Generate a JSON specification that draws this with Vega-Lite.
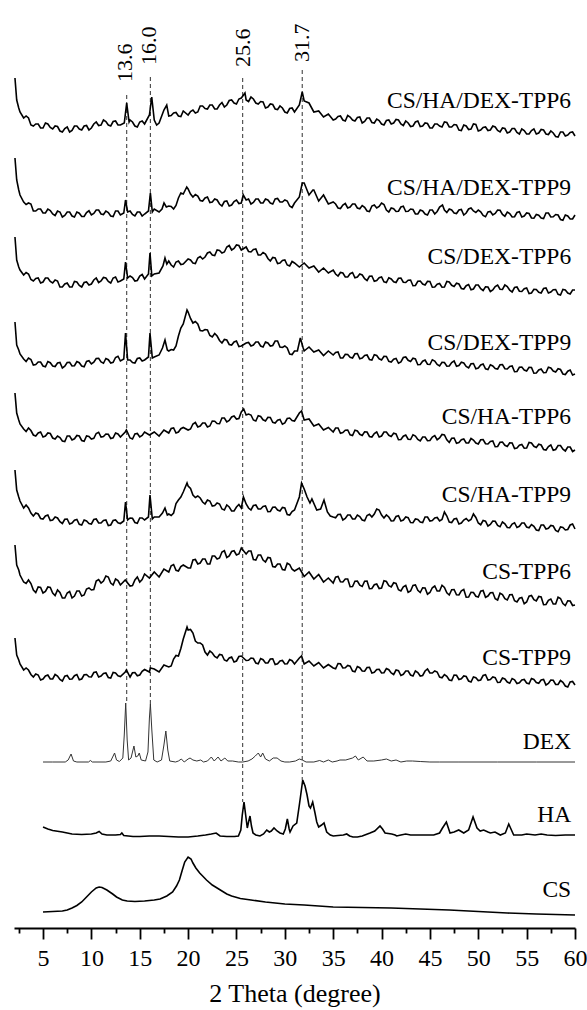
{
"$schema": "https://vega.github.io/schema/vega-lite/v6.json",
"width": 561, "height": 923,
"autosize": {"type": "none"},
"padding": {"left": 14, "top": 5, "right": 12, "bottom": 82},
"background": "white",
"config": {"view": {"stroke": null}, "font": "Liberation Serif, DejaVu Serif, serif"},
"datasets": {
"noisy": [
{"x":2.1,"a":850,"b":770,"c":691,"d":606,"e":535,"f":458,"g":383,"h":290},
{"x":2.28,"a":828,"b":748,"c":668,"d":583,"e":515,"f":438,"g":363,"h":273},
{"x":2.49,"a":820,"b":738,"c":661,"d":578,"e":508,"f":431,"g":358,"h":268},
{"x":2.62,"a":816,"b":733,"c":658,"d":574,"e":504,"f":427,"g":353,"h":264},
{"x":3,"a":810,"b":726,"c":653,"d":569,"e":499,"f":420,"g":346,"h":258},
{"x":3.5,"a":810,"b":725,"c":654,"d":570,"e":500,"f":420,"g":348,"h":258},
{"x":4,"a":802,"b":717,"c":647,"d":563,"e":493,"f":412,"g":338,"h":251},
{"x":4.5,"a":804,"b":719,"c":650,"d":566,"e":495,"f":414,"g":341,"h":253},
{"x":5,"a":800,"b":715,"c":646,"d":562,"e":491,"f":409,"g":335,"h":249},
{"x":5.5,"a":804,"b":719,"c":650,"d":566.5,"e":495,"f":413,"g":341,"h":253},
{"x":6,"a":799,"b":714,"c":645,"d":562,"e":490,"f":408,"g":335,"h":249},
{"x":6.5,"a":801.5,"b":717,"c":647,"d":565,"e":492,"f":410,"g":338,"h":252},
{"x":7,"a":796,"b":711,"c":641,"d":560,"e":487,"f":404.5,"g":330,"h":247},
{"x":7.5,"a":801,"b":716,"c":645,"d":565.5,"e":492,"f":409,"g":335,"h":252.5},
{"x":8,"a":797.5,"b":712,"c":641,"d":562,"e":488,"f":405,"g":330,"h":249},
{"x":8.5,"a":802,"b":716,"c":646,"d":566.5,"e":492.5,"f":408.5,"g":337,"h":253.5},
{"x":9,"a":798,"b":711.5,"c":641,"d":562,"e":487.5,"f":403,"g":332,"h":249},
{"x":9.5,"a":802.5,"b":715.5,"c":646,"d":566.5,"e":492,"f":407,"g":339,"h":253.5},
{"x":10,"a":800,"b":713,"c":644,"d":564,"e":489,"f":404,"g":338,"h":251},
{"x":10.5,"a":806,"b":718,"c":650,"d":569.5,"e":494.5,"f":409,"g":347,"h":256},
{"x":11,"a":803,"b":714,"c":647,"d":566,"e":491,"f":405,"g":345,"h":252},
{"x":11.5,"a":806.5,"b":717,"c":650,"d":569.5,"e":494,"f":408,"g":352,"h":255},
{"x":12,"a":802,"b":712,"c":645,"d":565,"e":489.5,"f":403,"g":345,"h":250},
{"x":12.5,"a":807,"b":717,"c":651,"d":570.5,"e":495,"f":408,"g":349,"h":255},
{"x":13,"a":803,"b":713,"c":647,"d":567,"e":491,"f":404.5,"g":343,"h":251.5},
{"x":13.35,"b":715,"c":649,"d":569,"f":407},
{"x":13.4,"a":805},
{"x":13.5,"e":496,"g":348,"h":256},
{"x":13.53,"b":728,"c":666,"d":595,"f":426},
{"x":13.62,"e":498,"h":258},
{"x":13.65,"a":825},
{"x":13.75,"b":716,"c":650,"d":568,"f":408},
{"x":13.9,"a":806},
{"x":14,"a":808,"b":717,"c":652,"d":568,"e":490,"f":410,"g":342,"h":251},
{"x":14.5,"a":802,"b":712,"c":647,"d":565,"e":494,"f":405.5,"g":348,"h":255.5},
{"x":15,"a":806,"b":716,"c":652,"d":570,"e":491,"f":410,"g":346,"h":253},
{"x":15.5,"a":804,"b":714,"c":649,"d":568,"e":496,"f":408,"g":354,"h":258.5},
{"x":15.9,"b":717,"c":654,"d":571,"f":411},
{"x":16,"a":813,"e":493,"g":350,"h":256},
{"x":16.06,"c":675,"d":595,"f":433},
{"x":16.1,"b":735,"h":260},
{"x":16.24,"a":831},
{"x":16.25,"c":652},
{"x":16.3,"b":716,"d":570,"f":409},
{"x":16.5,"a":808,"b":719,"c":654,"d":571,"e":496,"f":411,"g":356,"h":259},
{"x":16.75,"a":803},
{"x":17,"a":805,"b":716,"c":655,"d":573,"e":492,"f":411,"g":351,"h":256},
{"x":17.3,"b":719},
{"x":17.35,"d":580,"f":415},
{"x":17.4,"c":662},
{"x":17.5,"a":818,"e":498,"g":359,"h":263},
{"x":17.51,"b":725},
{"x":17.61,"c":670,"d":588,"f":420},
{"x":17.75,"b":721},
{"x":17.79,"a":823},
{"x":17.8,"c":664},
{"x":17.85,"d":578,"f":413},
{"x":18,"a":812,"b":722,"c":667,"d":577,"e":495,"f":414,"g":356,"h":261},
{"x":18.5,"a":815,"b":719,"c":661,"d":578,"e":500,"f":415,"g":363.5,"h":269},
{"x":19,"a":812,"b":730,"c":667,"d":592,"e":496,"f":428,"g":357,"h":272},
{"x":19.5,"a":817,"b":734,"c":664,"d":604,"e":500.5,"f":436,"g":363,"h":289},
{"x":19.86,"b":741},
{"x":19.89,"d":618,"f":445,"h":301},
{"x":20,"a":813,"b":739,"c":669,"d":616,"e":498,"f":442,"g":360,"h":298},
{"x":20.5,"a":818,"b":731,"c":665,"d":605,"e":504,"f":433,"g":368,"h":295},
{"x":21,"a":816,"b":732,"c":670,"d":604,"e":501,"f":432,"g":364,"h":285},
{"x":21.5,"a":822,"b":727,"c":669,"d":597,"e":505,"f":426,"g":369,"h":283},
{"x":22,"a":819,"b":731,"c":675,"d":598,"e":501,"f":428,"g":364,"h":273},
{"x":22.5,"a":823,"b":726,"c":673,"d":591,"e":507,"f":422,"g":372,"h":275},
{"x":23,"a":819,"b":728,"c":678,"d":592,"e":504.5,"f":425,"g":369,"h":270},
{"x":23.5,"a":825.5,"b":722,"c":675,"d":585,"e":510,"f":419,"g":376,"h":273},
{"x":24,"a":823,"b":727,"c":681,"d":588,"e":506,"f":423,"g":370.5,"h":267},
{"x":24.5,"a":828,"b":723,"c":678,"d":583,"e":511,"f":417,"g":376.5,"h":271},
{"x":25,"a":824,"b":728,"c":683,"d":587,"e":509,"f":421,"g":373,"h":267},
{"x":25.5,"a":830,"b":725,"c":678,"d":582,"e":516,"f":420,"g":380,"h":272},
{"x":25.7,"b":733},
{"x":25.72,"f":431},
{"x":25.75,"e":519},
{"x":25.88,"a":835},
{"x":26,"a":828,"b":728,"c":681,"d":585,"e":513,"f":424,"g":374,"h":267.5},
{"x":26.5,"a":831,"b":724,"c":676,"d":582,"e":513,"f":418,"g":377,"h":270},
{"x":27,"a":825,"b":729,"c":679,"d":586,"e":507,"f":423,"g":368,"h":265},
{"x":27.5,"a":826.5,"b":725,"c":673,"d":582,"e":511.5,"f":419,"g":373,"h":269.5},
{"x":28,"a":820,"b":729,"c":674,"d":586,"e":507,"f":422,"g":366,"h":265},
{"x":28.5,"a":824,"b":725,"c":667,"d":582,"e":510.5,"f":416.5,"g":370,"h":269},
{"x":29,"a":819,"b":729,"c":670,"d":587,"e":505,"f":421,"g":361,"h":263.5},
{"x":29.5,"a":822,"b":726,"c":665,"d":581,"e":508.5,"f":417,"g":364,"h":267},
{"x":30,"a":816,"b":728,"c":668,"d":582,"e":505,"f":420,"g":358,"h":264},
{"x":30.5,"a":819.5,"b":722,"c":662,"d":574,"e":510,"f":413,"g":363.5,"h":268.5},
{"x":31,"a":816,"b":725,"c":665,"d":577,"e":507,"f":418,"g":357,"h":264},
{"x":31.3,"d":577},
{"x":31.5,"a":823,"b":731,"c":661,"e":515,"f":431,"g":360,"h":270},
{"x":31.6,"d":590},
{"x":31.73,"e":517,"f":445,"h":272},
{"x":31.8,"a":836,"b":745},
{"x":31.9,"d":580},
{"x":32,"a":827,"b":745,"c":665,"d":577,"e":508,"f":439,"g":351.5,"h":264},
{"x":32.3,"f":431},
{"x":32.5,"a":825,"b":733,"c":660,"d":581,"e":509,"g":356,"h":267},
{"x":32.6,"f":425},
{"x":32.8,"f":429},
{"x":32.9,"b":738},
{"x":33,"a":816,"b":738,"c":662,"d":576,"e":502,"g":349,"h":262},
{"x":33.3,"f":418},
{"x":33.5,"a":817,"b":727,"c":656,"d":578,"e":504,"g":353.5,"h":265.5},
{"x":33.7,"f":419},
{"x":34,"a":811,"b":733,"c":660,"d":572.5,"e":498,"g":346,"h":260},
{"x":34.05,"f":428},
{"x":34.4,"f":416},
{"x":34.5,"a":814,"b":724,"c":655,"d":577,"e":500.5,"g":350,"h":263.5},
{"x":34.7,"f":412},
{"x":35,"a":808,"b":726,"c":658,"d":573,"e":496,"f":411,"g":345,"h":260},
{"x":35.5,"a":811.5,"b":720,"c":652,"d":576,"e":500,"f":413.5,"g":351.5,"h":264.5},
{"x":36,"a":808,"b":723,"c":655,"d":570,"e":495.5,"f":408,"g":346,"h":260},
{"x":36.5,"a":812.5,"b":720,"c":651,"d":573.5,"e":498,"f":413,"g":349,"h":262.5},
{"x":37,"a":808,"b":724,"c":655.5,"d":570,"e":492.5,"f":409,"g":341.5,"h":257},
{"x":37.5,"a":810.5,"b":720,"c":651,"d":574.5,"e":497,"f":413,"g":347,"h":261.5},
{"x":38,"a":805,"b":722.5,"c":653,"d":570,"e":492.5,"f":408,"g":341.5,"h":257},
{"x":38.5,"a":810,"b":717,"c":647.5,"d":573,"e":496,"f":412.5,"g":347,"h":260.5},
{"x":39,"a":805.5,"b":722,"c":652,"d":568,"e":491,"f":411,"g":339.5,"h":255},
{"x":39.5,"a":809,"b":720,"c":647.5,"d":572.5,"e":496,"f":419,"g":344,"h":258.5},
{"x":40,"a":804,"b":725,"c":651,"d":568,"e":492,"f":413,"g":340,"h":255},
{"x":40.5,"a":807.5,"b":718,"c":645.5,"d":571.5,"e":496,"f":413,"g":346.5,"h":259.5},
{"x":41,"a":804,"b":720,"c":649,"d":566,"e":491.5,"f":407,"g":341,"h":255},
{"x":41.5,"a":808.5,"b":716.5,"c":645.5,"d":569.5,"e":494,"f":411.5,"g":344.5,"h":258},
{"x":42,"a":804,"b":721,"c":650,"d":566,"e":488.5,"f":407,"g":337,"h":252.5},
{"x":42.5,"a":807,"b":716.5,"c":645.5,"d":571,"e":493,"f":411,"g":342.5,"h":257},
{"x":43,"a":801.5,"b":719,"c":648,"d":566.5,"e":488.5,"f":405.5,"g":337,"h":253},
{"x":43.5,"a":806,"b":714,"c":642.5,"d":569,"e":492,"f":409,"g":343,"h":257},
{"x":44,"a":801.5,"b":718,"c":647,"d":563.5,"e":487,"f":406,"g":335.5,"h":252},
{"x":44.5,"a":805,"b":714,"c":643,"d":568,"e":491,"f":411,"g":340,"h":257},
{"x":45,"a":800,"b":718,"c":646.5,"d":563.5,"e":487.5,"f":407,"g":335.5,"h":255},
{"x":45.5,"a":804,"b":714,"c":641,"d":567,"e":492.5,"f":410,"g":342,"h":257},
{"x":46,"a":802,"b":721,"c":644.5,"d":562,"e":490,"f":407,"g":337,"h":251},
{"x":46.3,"b":723},
{"x":46.5,"a":806,"b":718,"c":641,"d":565.5,"e":493,"f":416,"g":340.5,"h":253.5},
{"x":47,"a":801,"b":719,"c":646,"d":562,"e":485.5,"f":406,"g":333,"h":248},
{"x":47.5,"a":803.5,"b":715,"c":641.5,"d":567,"e":490,"f":409,"g":338.5,"h":253},
{"x":48,"a":798,"b":718,"c":644,"d":562.5,"e":485.5,"f":404,"g":333,"h":248.5},
{"x":48.5,"a":803,"b":713,"c":639,"d":565,"e":489,"f":408,"g":338.5,"h":252},
{"x":49,"a":798.5,"b":719,"c":643.5,"d":560,"e":485,"f":407,"g":331,"h":247},
{"x":49.5,"a":804,"b":717,"c":639,"d":564.5,"e":488,"f":414,"g":335.5,"h":251},
{"x":50,"a":797,"b":718,"c":643,"d":560,"e":484,"f":405,"g":331,"h":247.5},
{"x":50.5,"a":800.5,"b":712.5,"c":637.5,"d":564,"e":488.5,"f":407.5,"g":337.5,"h":252.5},
{"x":51,"a":797.5,"b":716,"c":641,"d":558.5,"e":484,"f":402,"g":332,"h":248},
{"x":51.5,"a":802,"b":713,"c":638,"d":562,"e":487,"f":407,"g":335.5,"h":251},
{"x":52,"a":797.5,"b":718,"c":643,"d":559,"e":481.5,"f":402.5,"g":328,"h":245.5},
{"x":52.5,"a":800,"b":713.5,"c":638.5,"d":563.5,"e":486,"f":406,"g":333.5,"h":250},
{"x":53,"a":795,"b":716,"c":641.5,"d":559,"e":481.5,"f":400.5,"g":328,"h":246},
{"x":53.5,"a":799.5,"b":711,"c":636,"d":562,"e":485,"f":404,"g":333.5,"h":249.5},
{"x":54,"a":795.5,"b":715.5,"c":641,"d":556.5,"e":480,"f":400.5,"g":326,"h":244.5},
{"x":54.5,"a":799,"b":711,"c":636.5,"d":561,"e":483.5,"f":405,"g":330.5,"h":248},
{"x":55,"a":794,"b":715,"c":640,"d":557,"e":480,"f":401,"g":326,"h":245},
{"x":55.5,"a":797.5,"b":710,"c":635,"d":560.5,"e":485,"f":403.5,"g":332.5,"h":249.5},
{"x":56,"a":794,"b":713.5,"c":638.5,"d":555,"e":480.5,"f":398,"g":327,"h":245.5},
{"x":56.5,"a":798.5,"b":710,"c":635,"d":559,"e":483,"f":403,"g":331,"h":248},
{"x":57,"a":794,"b":715,"c":640,"d":555.5,"e":478,"f":399,"g":323.5,"h":243},
{"x":57.5,"a":797,"b":711,"c":636,"d":560,"e":483,"f":402.5,"g":329,"h":248},
{"x":58,"a":791.5,"b":713.5,"c":638.5,"d":556,"e":478.5,"f":397.5,"g":324,"h":243.5},
{"x":58.5,"a":796,"b":708.5,"c":633,"d":558.5,"e":482.5,"f":401,"g":329.5,"h":247.5},
{"x":59,"a":792,"b":713,"c":638,"d":553.5,"e":477,"f":398,"g":322.5,"h":242},
{"x":59.5,"a":795.5,"b":709,"c":634,"d":558,"e":481,"f":403,"g":327,"h":246},
{"x":60,"a":792,"b":713,"c":638,"d":554,"e":478,"f":399,"g":323,"h":243},
{"x":3.25,"a":812,"b":723.5,"c":655.5,"d":566.5,"e":496.5,"f":423,"g":344.5,"h":260},
{"x":3.75,"a":803,"b":724,"c":648.5,"d":568.5,"e":497.5,"f":415,"g":344.5,"h":253.5},
{"x":4.25,"a":804,"b":717,"c":649.5,"d":563.5,"e":492,"f":415,"g":335.5,"h":254},
{"x":4.75,"a":800,"b":719,"c":645,"d":566,"e":496,"f":409.5,"g":340.5,"h":248},
{"x":5.25,"a":805,"b":715,"c":650,"d":561.25,"e":492,"f":412,"g":336.5,"h":252},
{"x":5.75,"a":800.5,"b":717.5,"c":646.5,"d":565.25,"e":494.5,"f":407.5,"g":340.5,"h":249},
{"x":6.25,"a":802,"b":712.5,"c":648,"d":561.5,"e":489,"f":411,"g":332.5,"h":253.5},
{"x":6.75,"a":797,"b":716,"c":641,"d":565.5,"e":490.5,"f":406.25,"g":335.5,"h":248.5},
{"x":7.25,"a":799.5,"b":712.5,"c":644,"d":561.75,"e":486.5,"f":408.75,"g":330,"h":251.75},
{"x":7.75,"a":796,"b":716,"c":641,"d":565.75,"e":492,"f":404,"g":336.5,"h":248.75},
{"x":8.25,"a":802,"b":711,"c":646.5,"d":562.25,"e":489.25,"f":407.75,"g":332,"h":252.25},
{"x":8.75,"a":799,"b":714.75,"c":642.5,"d":565.25,"e":492,"f":403.75,"g":337,"h":248.25},
{"x":9.25,"a":802,"b":711.5,"c":645.5,"d":561.25,"e":486.75,"f":408,"g":333,"h":253.25},
{"x":9.75,"a":798,"b":717.25,"c":643,"d":567.25,"e":491.5,"f":404.5,"g":340,"h":251.25},
{"x":10.25,"a":804,"b":714.5,"c":648,"d":565.75,"e":489.75,"f":408.5,"g":338.5,"h":255.5},
{"x":10.75,"a":802.5,"b":718,"c":645.5,"d":569.75,"e":495.75,"f":405,"g":348.5,"h":251},
{"x":11.25,"a":808,"b":713.5,"c":650.5,"d":564.75,"e":491.5,"f":407.5,"g":347,"h":254.5},
{"x":11.75,"a":803,"b":715.5,"c":646.5,"d":568.25,"e":493.75,"f":402.5,"g":351,"h":250.5},
{"x":12.25,"a":806.5,"b":711.5,"c":650,"d":565.75,"e":490.25,"f":407.5,"g":343,"h":255.5},
{"x":12.75,"a":803,"b":717,"c":646,"d":571.75,"e":494,"f":405.25,"g":347.5,"h":252.25},
{"x":14.25,"a":806,"b":713.5,"c":650.5,"d":565.5,"e":489,"f":409.75,"g":342.5,"h":255.25},
{"x":14.75,"a":801,"b":716,"c":647.5,"d":569.5,"e":494.5,"f":404.75,"g":351,"h":252.25},
{"x":15.25,"a":807,"b":712,"c":653.5,"d":567,"e":492.5,"f":410,"g":348.5,"h":256.75},
{"x":18.25,"a":812.5,"b":721.5,"c":663,"d":578.5,"e":499.5,"f":412.5,"g":362.25,"h":262},
{"x":18.75,"a":815.5,"b":722.5,"c":666,"d":582,"e":495,"f":424.5,"g":357.75,"h":272.5},
{"x":19.25,"a":811.5,"b":735,"c":663.5,"d":600,"e":499.25,"f":431,"g":361.5,"h":279.5},
{"x":20.25,"a":816.5,"b":734,"c":668,"d":609.5,"e":499,"f":439.5,"g":360,"h":298.5},
{"x":20.75,"a":815,"b":733.5,"c":664.5,"d":606.5,"e":505.5,"f":430.5,"g":368.5,"h":287},
{"x":21.25,"a":822,"b":727.5,"c":671.5,"d":597.5,"e":502,"f":430,"g":365,"h":285},
{"x":21.75,"a":819.5,"b":730,"c":671,"d":598.5,"e":505,"f":424,"g":369,"h":276},
{"x":22.25,"a":823,"b":725.5,"c":676,"d":592.5,"e":502,"f":427,"g":364,"h":277},
{"x":22.75,"a":819,"b":729,"c":672.5,"d":594.5,"e":506.75,"f":422.5,"g":372,"h":271.5},
{"x":23.25,"a":823,"b":724,"c":677.5,"d":587.5,"e":504.25,"f":424,"g":370,"h":273.5},
{"x":23.75,"a":821,"b":726.5,"c":676,"d":588.5,"e":510,"f":418,"g":377.25,"h":268},
{"x":24.25,"a":827.5,"b":722,"c":682.5,"d":583.5,"e":507.5,"f":421,"g":372,"h":270},
{"x":24.75,"a":825,"b":726.5,"c":679.5,"d":586,"e":512,"f":417,"g":377.25,"h":266},
{"x":25.25,"a":829,"b":724.5,"c":682.5,"d":581.5,"e":509.5,"f":423.5,"g":374,"h":271.5},
{"x":26.25,"a":826.5,"b":729,"c":676.5,"d":585.5,"e":514,"f":420,"g":377,"h":267.75},
{"x":26.75,"a":829,"b":725.5,"c":678.5,"d":583,"e":508,"f":422.5,"g":368.5,"h":269.5},
{"x":27.25,"a":824,"b":729,"c":673,"d":586,"e":512.25,"f":419,"g":373,"h":264.25},
{"x":27.75,"a":826,"b":725,"c":675.5,"d":581,"e":508.25,"f":421.5,"g":368,"h":268.25},
{"x":28.25,"a":821,"b":728,"c":669.5,"d":585,"e":510.75,"f":416.25,"g":370.5,"h":265},
{"x":28.75,"a":823.5,"b":724,"c":670.5,"d":582.5,"e":505.75,"f":420.75,"g":361.5,"h":269.25},
{"x":29.25,"a":818.5,"b":729.5,"c":664.5,"d":587,"e":507.75,"f":418,"g":364,"h":264.25},
{"x":29.75,"a":820,"b":726,"c":667.5,"d":580.5,"e":503.75,"f":420.5,"g":358.5,"h":267.5},
{"x":30.25,"a":815,"b":727,"c":663,"d":580,"e":509.5,"f":413.5,"g":364.75,"h":264.25},
{"x":30.75,"a":820,"b":720.5,"c":666.5,"d":573.5,"e":507.5,"f":416.5,"g":358.75,"h":267.25},
{"x":35.25,"a":809,"b":724,"c":654,"d":575.5,"e":500,"f":410.25,"g":350.75,"h":259.25},
{"x":35.75,"a":812,"b":719.5,"c":655.5,"d":570,"e":494.75,"f":413.75,"g":346.25,"h":264.25},
{"x":36.25,"a":807,"b":724.5,"c":651,"d":573.75,"e":497.75,"f":409.5,"g":349,"h":260.25},
{"x":36.75,"a":811,"b":721,"c":654.25,"d":570.75,"e":493.25,"f":413,"g":341.25,"h":261.75},
{"x":37.25,"a":807,"b":724,"c":650.25,"d":574.25,"e":497.75,"f":409,"g":346.75,"h":256.25},
{"x":37.75,"a":811,"b":719.25,"c":654,"d":569.25,"e":493.75,"f":411.5,"g":342.75,"h":260.25},
{"x":38.25,"a":806.5,"b":720.75,"c":649.25,"d":572.5,"e":496.25,"f":407.25,"g":346.75,"h":256.75},
{"x":38.75,"a":810,"b":716.5,"c":651.75,"d":568.5,"e":491.5,"f":413.75,"g":339.25,"h":260.75},
{"x":39.25,"a":805,"b":723,"c":646.75,"d":573.25,"e":494.5,"f":414,"g":343.25,"h":255.75},
{"x":39.75,"a":807.5,"b":721.5,"c":650.25,"d":569.25,"e":491,"f":418,"g":339.5,"h":258.75},
{"x":40.25,"a":803,"b":723.5,"c":646.25,"d":571.75,"e":496,"f":410,"g":347.25,"h":255.25},
{"x":40.75,"a":808,"b":716,"c":650.25,"d":566.75,"e":492.75,"f":411,"g":342.25,"h":258.25},
{"x":41.25,"a":805,"b":719.25,"c":646.25,"d":568.75,"e":494.75,"f":407.25,"g":345.25,"h":253.5},
{"x":41.75,"a":808,"b":716.75,"c":649.75,"d":564.75,"e":488.25,"f":412.25,"g":338.25,"h":257.25},
{"x":42.25,"a":802.5,"b":721.75,"c":645.75,"d":570.5,"e":491.75,"f":408,"g":341.25,"h":253.75},
{"x":42.75,"a":805,"b":716.75,"c":647.75,"d":567.75,"e":488.75,"f":410.25,"g":335.75,"h":257},
{"x":43.25,"a":802,"b":718.5,"c":642.25,"d":569.75,"e":493.25,"f":405.25,"g":342.5,"h":252},
{"x":43.75,"a":807,"b":714,"c":646.75,"d":563.25,"e":488.5,"f":408.5,"g":337.75,"h":255.5},
{"x":44.25,"a":802,"b":717,"c":644,"d":566.75,"e":491,"f":405.5,"g":340.25,"h":252.5},
{"x":44.75,"a":804.5,"b":713,"c":646.75,"d":563.75,"e":487.25,"f":411,"g":333.75,"h":259},
{"x":45.25,"a":800,"b":718,"c":640.75,"d":568.25,"e":491,"f":407.5,"g":340.25,"h":255},
{"x":45.75,"a":804,"b":716.5,"c":643.75,"d":563.5,"e":488.25,"f":410.5,"g":337,"h":256},
{"x":46.25,"a":801,"c":640.75,"d":565.75,"e":493.5,"f":408.5,"g":342.75,"h":250.25},
{"x":46.75,"a":805.5,"b":715.5,"c":646.5,"d":561.75,"e":488.25,"f":412,"g":335.25,"h":251.75},
{"x":47.25,"a":801,"b":718,"c":642.75,"d":565.5,"e":489.75,"f":405.5,"g":338.25,"h":247.5},
{"x":47.75,"a":803,"b":714.5,"c":644.75,"d":561.75,"e":484.75,"f":409.5,"g":333.25,"h":252.75},
{"x":48.25,"a":797.5,"b":718.5,"c":639.5,"d":565.75,"e":488.25,"f":405,"g":337.25,"h":249.25},
{"x":48.75,"a":802,"b":715,"c":642.25,"d":561.5,"e":485,"f":409.5,"g":330.75,"h":251.5},
{"x":49.25,"a":799,"b":720,"c":638.25,"d":564.25,"e":489.5,"f":408.5,"g":335.75,"h":246},
{"x":49.75,"a":803.5,"b":715.5,"c":643,"d":559.25,"e":485,"f":410.5,"g":331.75,"h":250.25},
{"x":50.25,"a":798,"b":716.25,"c":639.25,"d":563,"e":488.25,"f":403.25,"g":336.75,"h":248},
{"x":50.75,"a":801,"b":711.25,"c":641.25,"d":559.25,"e":484.25,"f":406.75,"g":330.75,"h":253.25},
{"x":51.25,"a":798,"b":716.5,"c":636.5,"d":563.25,"e":486.5,"f":403.5,"g":335.25,"h":248.5},
{"x":51.75,"a":801,"b":714.5,"c":641.5,"d":559.5,"e":481.25,"f":406.75,"g":329.25,"h":250.25},
{"x":52.25,"a":796,"b":717.75,"c":638.75,"d":563.25,"e":485.75,"f":401.25,"g":334.75,"h":245.75},
{"x":52.75,"a":799.5,"b":711.75,"c":643,"d":559.25,"e":482.75,"f":404.25,"g":329.25,"h":249},
{"x":53.25,"a":796,"b":714.5,"c":637.75,"d":561.5,"e":485.25,"f":400.25,"g":333.25,"h":244.75},
{"x":53.75,"a":799.5,"b":711.25,"c":640.5,"d":556.25,"e":479.5,"f":405.25,"g":327.25,"h":248.25},
{"x":54.25,"a":794,"b":716.25,"c":636.75,"d":560.75,"e":482.75,"f":401.75,"g":329.75,"h":245.25},
{"x":54.75,"a":797.5,"b":712,"c":639.25,"d":558,"e":479.75,"f":405,"g":324.25,"h":248.5},
{"x":55.25,"a":794,"b":714.5,"c":634.5,"d":560.75,"e":485.5,"f":400.25,"g":331.75,"h":244.25},
{"x":55.75,"a":799,"b":709.75,"c":638.75,"d":554.75,"e":481.75,"f":401.75,"g":328.25,"h":248.5},
{"x":56.25,"a":795,"b":712.75,"c":635.75,"d":558,"e":483.75,"f":397.5,"g":331.5,"h":244.75},
{"x":56.75,"a":798,"b":709.5,"c":639.5,"d":555.25,"e":478.5,"f":403,"g":323.25,"h":248.5},
{"x":57.25,"a":793.5,"b":715,"c":635,"d":560.75,"e":481.5,"f":399.75,"g":327.75,"h":244.5},
{"x":57.75,"a":795,"b":711.25,"c":638.25,"d":557,"e":477.75,"f":402,"g":324,"h":247.75},
{"x":58.25,"a":791,"b":713,"c":633.75,"d":559.25,"e":482.5,"f":396.25,"g":330.75,"h":243.5},
{"x":58.75,"a":796,"b":707.75,"c":638.5,"d":554,"e":478.75,"f":400.5,"g":324.5,"h":245.75},
{"x":59.25,"a":793,"b":712,"c":635,"d":556.75,"e":481,"f":398.5,"g":327.25,"h":241},
{"x":59.75,"a":796,"b":709,"c":638,"d":553,"e":476.5,"f":404,"g":322.5,"h":246.5}
],
"smooth": [
{"s":"DEX","x":5,"y":166},{"s":"DEX","x":6,"y":166},{"s":"DEX","x":7.3,"y":166},{"s":"DEX","x":7.6,"y":168},{"s":"DEX","x":7.9,"y":174},{"s":"DEX","x":8.15,"y":167},{"s":"DEX","x":8.5,"y":166},{"s":"DEX","x":9.7,"y":166},{"s":"DEX","x":9.9,"y":167.5},{"s":"DEX","x":10.1,"y":166},{"s":"DEX","x":11.5,"y":166},{"s":"DEX","x":12,"y":167},{"s":"DEX","x":12.25,"y":172},{"s":"DEX","x":12.4,"y":175},{"s":"DEX","x":12.6,"y":168},{"s":"DEX","x":12.9,"y":166.5},{"s":"DEX","x":13.25,"y":170},{"s":"DEX","x":13.4,"y":193},{"s":"DEX","x":13.55,"y":225},{"s":"DEX","x":13.7,"y":188},{"s":"DEX","x":13.85,"y":168},{"s":"DEX","x":14.1,"y":170},{"s":"DEX","x":14.4,"y":182},{"s":"DEX","x":14.6,"y":171},{"s":"DEX","x":14.8,"y":172},{"s":"DEX","x":14.95,"y":175},{"s":"DEX","x":15.15,"y":168},{"s":"DEX","x":15.6,"y":167},{"s":"DEX","x":15.85,"y":176},{"s":"DEX","x":16,"y":210},{"s":"DEX","x":16.1,"y":224},{"s":"DEX","x":16.25,"y":198},{"s":"DEX","x":16.45,"y":168},{"s":"DEX","x":16.8,"y":166},{"s":"DEX","x":17.25,"y":168},{"s":"DEX","x":17.5,"y":183},{"s":"DEX","x":17.7,"y":197},{"s":"DEX","x":17.9,"y":178},{"s":"DEX","x":18.1,"y":167},{"s":"DEX","x":18.7,"y":166},{"s":"DEX","x":19,"y":167},{"s":"DEX","x":19.3,"y":169},{"s":"DEX","x":19.6,"y":166},{"s":"DEX","x":20,"y":169},{"s":"DEX","x":20.2,"y":170},{"s":"DEX","x":20.5,"y":168},{"s":"DEX","x":20.9,"y":167},{"s":"DEX","x":21.3,"y":168},{"s":"DEX","x":21.6,"y":166},{"s":"DEX","x":22,"y":167},{"s":"DEX","x":22.4,"y":171},{"s":"DEX","x":22.7,"y":167},{"s":"DEX","x":23.1,"y":171},{"s":"DEX","x":23.4,"y":167},{"s":"DEX","x":23.8,"y":170},{"s":"DEX","x":24.1,"y":167},{"s":"DEX","x":24.6,"y":167},{"s":"DEX","x":25.2,"y":166},{"s":"DEX","x":25.65,"y":166},{"s":"DEX","x":26.2,"y":167},{"s":"DEX","x":26.6,"y":169},{"s":"DEX","x":26.95,"y":172},{"s":"DEX","x":27.26,"y":175},{"s":"DEX","x":27.5,"y":171},{"s":"DEX","x":27.71,"y":175},{"s":"DEX","x":28,"y":169},{"s":"DEX","x":28.4,"y":167},{"s":"DEX","x":28.8,"y":170},{"s":"DEX","x":29.2,"y":170},{"s":"DEX","x":29.6,"y":167},{"s":"DEX","x":30,"y":166},{"s":"DEX","x":30.5,"y":166},{"s":"DEX","x":31.1,"y":167},{"s":"DEX","x":31.5,"y":169},{"s":"DEX","x":31.8,"y":168},{"s":"DEX","x":32.2,"y":166},{"s":"DEX","x":33,"y":166},{"s":"DEX","x":33.6,"y":167.5},{"s":"DEX","x":34,"y":166},{"s":"DEX","x":34.5,"y":168},{"s":"DEX","x":34.9,"y":166},{"s":"DEX","x":35.4,"y":167},{"s":"DEX","x":35.7,"y":168},{"s":"DEX","x":36.3,"y":168},{"s":"DEX","x":37,"y":170},{"s":"DEX","x":37.3,"y":172},{"s":"DEX","x":37.6,"y":168},{"s":"DEX","x":38.1,"y":171},{"s":"DEX","x":38.5,"y":167},{"s":"DEX","x":39.2,"y":167},{"s":"DEX","x":40,"y":168},{"s":"DEX","x":40.5,"y":169},{"s":"DEX","x":41,"y":167},{"s":"DEX","x":41.5,"y":168},{"s":"DEX","x":42,"y":166},{"s":"DEX","x":42.6,"y":167},{"s":"DEX","x":43.2,"y":167},{"s":"DEX","x":44,"y":166.5},{"s":"DEX","x":45,"y":166},{"s":"DEX","x":46,"y":166},{"s":"DEX","x":48,"y":166},{"s":"DEX","x":52,"y":166},{"s":"DEX","x":56,"y":166},{"s":"DEX","x":60,"y":166},
{"s":"HA","x":5,"y":101},{"s":"HA","x":5.5,"y":99},{"s":"HA","x":6,"y":97.5},{"s":"HA","x":7,"y":96},{"s":"HA","x":7.5,"y":95},{"s":"HA","x":8,"y":94},{"s":"HA","x":9,"y":93.5},{"s":"HA","x":10,"y":94},{"s":"HA","x":10.5,"y":95},{"s":"HA","x":10.8,"y":96.5},{"s":"HA","x":11.1,"y":94},{"s":"HA","x":11.6,"y":93},{"s":"HA","x":12.5,"y":93},{"s":"HA","x":13,"y":93.5},{"s":"HA","x":13.15,"y":95},{"s":"HA","x":13.35,"y":92.5},{"s":"HA","x":14.3,"y":91.5},{"s":"HA","x":15,"y":91.5},{"s":"HA","x":16,"y":92},{"s":"HA","x":17,"y":92},{"s":"HA","x":18,"y":91.5},{"s":"HA","x":19,"y":91},{"s":"HA","x":20,"y":91},{"s":"HA","x":21,"y":92},{"s":"HA","x":21.8,"y":93},{"s":"HA","x":22.4,"y":94},{"s":"HA","x":22.9,"y":95},{"s":"HA","x":23.3,"y":92},{"s":"HA","x":24,"y":91.5},{"s":"HA","x":24.8,"y":91.5},{"s":"HA","x":25.2,"y":92},{"s":"HA","x":25.45,"y":98},{"s":"HA","x":25.6,"y":113},{"s":"HA","x":25.78,"y":126},{"s":"HA","x":25.95,"y":113},{"s":"HA","x":26.12,"y":100},{"s":"HA","x":26.25,"y":106},{"s":"HA","x":26.4,"y":112},{"s":"HA","x":26.55,"y":102},{"s":"HA","x":26.71,"y":95},{"s":"HA","x":27,"y":93},{"s":"HA","x":27.43,"y":92},{"s":"HA","x":27.8,"y":94},{"s":"HA","x":28.13,"y":98},{"s":"HA","x":28.4,"y":96},{"s":"HA","x":28.6,"y":97},{"s":"HA","x":28.88,"y":100},{"s":"HA","x":29.2,"y":97},{"s":"HA","x":29.5,"y":95},{"s":"HA","x":29.84,"y":94},{"s":"HA","x":30.05,"y":99},{"s":"HA","x":30.26,"y":109},{"s":"HA","x":30.45,"y":99},{"s":"HA","x":30.54,"y":96},{"s":"HA","x":30.85,"y":102},{"s":"HA","x":31.23,"y":105},{"s":"HA","x":31.5,"y":123},{"s":"HA","x":31.6,"y":130},{"s":"HA","x":31.85,"y":148},{"s":"HA","x":32.09,"y":142},{"s":"HA","x":32.3,"y":133},{"s":"HA","x":32.5,"y":122},{"s":"HA","x":32.65,"y":120},{"s":"HA","x":32.88,"y":126},{"s":"HA","x":33.12,"y":115},{"s":"HA","x":33.3,"y":106},{"s":"HA","x":33.5,"y":101},{"s":"HA","x":33.8,"y":103},{"s":"HA","x":34.05,"y":105},{"s":"HA","x":34.33,"y":96},{"s":"HA","x":34.7,"y":93},{"s":"HA","x":35.01,"y":92},{"s":"HA","x":35.5,"y":92.5},{"s":"HA","x":36.05,"y":93},{"s":"HA","x":36.4,"y":94},{"s":"HA","x":36.7,"y":92},{"s":"HA","x":37.05,"y":91},{"s":"HA","x":37.5,"y":91},{"s":"HA","x":38,"y":92},{"s":"HA","x":38.81,"y":95},{"s":"HA","x":39.3,"y":97},{"s":"HA","x":39.84,"y":102},{"s":"HA","x":40.1,"y":99},{"s":"HA","x":40.36,"y":95},{"s":"HA","x":41.05,"y":94},{"s":"HA","x":41.4,"y":93},{"s":"HA","x":41.57,"y":92},{"s":"HA","x":42,"y":93},{"s":"HA","x":42.5,"y":94},{"s":"HA","x":43,"y":93},{"s":"HA","x":43.84,"y":93},{"s":"HA","x":44.5,"y":93},{"s":"HA","x":45.39,"y":93},{"s":"HA","x":46,"y":95},{"s":"HA","x":46.3,"y":100},{"s":"HA","x":46.7,"y":106},{"s":"HA","x":47.08,"y":95},{"s":"HA","x":47.5,"y":96},{"s":"HA","x":47.98,"y":98},{"s":"HA","x":48.5,"y":95},{"s":"HA","x":49,"y":98},{"s":"HA","x":49.46,"y":111},{"s":"HA","x":49.87,"y":100},{"s":"HA","x":50.2,"y":97},{"s":"HA","x":50.56,"y":98},{"s":"HA","x":51,"y":96},{"s":"HA","x":51.25,"y":95},{"s":"HA","x":51.73,"y":96},{"s":"HA","x":52.28,"y":93},{"s":"HA","x":52.8,"y":95},{"s":"HA","x":53.15,"y":104},{"s":"HA","x":53.66,"y":93},{"s":"HA","x":54.5,"y":93},{"s":"HA","x":55,"y":94},{"s":"HA","x":55.87,"y":93},{"s":"HA","x":56.5,"y":94},{"s":"HA","x":57.11,"y":93},{"s":"HA","x":58,"y":92.5},{"s":"HA","x":59,"y":93},{"s":"HA","x":60,"y":93},
{"s":"CS","x":5,"y":16},{"s":"CS","x":6,"y":16.5},{"s":"CS","x":7,"y":17},{"s":"CS","x":7.5,"y":18},{"s":"CS","x":8,"y":20},{"s":"CS","x":8.5,"y":22.5},{"s":"CS","x":9,"y":26},{"s":"CS","x":9.5,"y":31},{"s":"CS","x":10,"y":36},{"s":"CS","x":10.5,"y":40},{"s":"CS","x":10.8,"y":41},{"s":"CS","x":11.1,"y":40.5},{"s":"CS","x":11.6,"y":38},{"s":"CS","x":12.2,"y":34},{"s":"CS","x":12.6,"y":31},{"s":"CS","x":13.2,"y":28},{"s":"CS","x":13.7,"y":27},{"s":"CS","x":14.5,"y":26.5},{"s":"CS","x":15.5,"y":27},{"s":"CS","x":16.5,"y":28},{"s":"CS","x":17.1,"y":29},{"s":"CS","x":17.8,"y":32},{"s":"CS","x":18.4,"y":36},{"s":"CS","x":18.8,"y":42},{"s":"CS","x":19.1,"y":48},{"s":"CS","x":19.4,"y":58},{"s":"CS","x":19.65,"y":66},{"s":"CS","x":20,"y":71},{"s":"CS","x":20.3,"y":69},{"s":"CS","x":20.5,"y":65},{"s":"CS","x":20.8,"y":60},{"s":"CS","x":21.2,"y":55},{"s":"CS","x":21.5,"y":52},{"s":"CS","x":21.9,"y":48},{"s":"CS","x":22.5,"y":43},{"s":"CS","x":23,"y":40},{"s":"CS","x":23.5,"y":37},{"s":"CS","x":24,"y":34},{"s":"CS","x":24.5,"y":32},{"s":"CS","x":25.4,"y":29.5},{"s":"CS","x":26.5,"y":28},{"s":"CS","x":28,"y":26},{"s":"CS","x":30,"y":24},{"s":"CS","x":32,"y":23},{"s":"CS","x":35,"y":21},{"s":"CS","x":38,"y":20.5},{"s":"CS","x":41,"y":20},{"s":"CS","x":44,"y":19},{"s":"CS","x":47,"y":18},{"s":"CS","x":50,"y":16.5},{"s":"CS","x":53,"y":15},{"s":"CS","x":56,"y":14},{"s":"CS","x":60,"y":13}
],
"labels": [
{"label":"CS/HA/DEX-TPP6","x":59.6,"y":827},
{"label":"CS/HA/DEX-TPP9","x":59.6,"y":740},
{"label":"CS/DEX-TPP6","x":59.6,"y":671},
{"label":"CS/DEX-TPP9","x":59.6,"y":585},
{"label":"CS/HA-TPP6","x":59.6,"y":511},
{"label":"CS/HA-TPP9","x":59.6,"y":433},
{"label":"CS-TPP6","x":59.6,"y":356},
{"label":"CS-TPP9","x":59.6,"y":270},
{"label":"DEX","x":59.6,"y":186},
{"label":"HA","x":59.6,"y":113},
{"label":"CS","x":59.6,"y":38}
],
"rules": [
{"x":13.65,"y":833,"y2":225},
{"x":16.1,"y":851,"y2":223},
{"x":25.64,"y":850,"y2":126},
{"x":31.8,"y":858,"y2":148}
],
"peaks": [
{"label":"13.6","x":13.48,"y":846},
{"label":"16.0","x":15.99,"y":863},
{"label":"25.6","x":25.71,"y":861},
{"label":"31.7","x":31.78,"y":866}
]
},
"encoding": {
"x": {"field": "x", "type": "quantitative",
 "scale": {"domain": [2, 60], "nice": false, "zero": false},
 "axis": {
  "values": [2.5,5,7.5,10,12.5,15,17.5,20,22.5,25,27.5,30,32.5,35,37.5,40,42.5,45,47.5,50,52.5,55,57.5,60],
  "labelExpr": "datum.value % 5 === 0 ? '' + datum.value : ''",
  "tickSize": {"condition": {"test": "datum.value % 5 === 0", "value": 11}, "value": 5},
  "tickWidth": 1.8, "tickColor": "black",
  "domainColor": "black", "domainWidth": 2,
  "grid": false,
  "labelFont": "Liberation Serif, DejaVu Serif, serif", "labelFontSize": 24, "labelColor": "black", "labelPadding": 7,
  "labelFlush": false, "labelOverlap": false, "labelBound": false,
  "title": "2 Theta (degree)", "titleFont": "Liberation Serif, DejaVu Serif, serif", "titleFontSize": 26, "titleFontWeight": "normal", "titleColor": "black", "titlePadding": 10
 }},
"y": {"field": "y", "type": "quantitative", "scale": {"domain": [0, 923], "nice": false, "zero": false}, "axis": null}
},
"layer": [
{"data": {"name": "rules"}, "mark": {"type": "rule", "strokeDash": [4, 3], "color": "#444", "strokeWidth": 1.1}, "encoding": {"y2": {"field": "y2"}}},
{"data": {"name": "noisy"}, "transform": [{"fold": ["a","b","c","d","e","f","g","h"], "as": ["s","y"]}, {"filter": "isValid(datum.y)"}], "mark": {"type": "line", "color": "black", "strokeWidth": 1.6, "strokeJoin": "miter"}, "encoding": {"detail": {"field": "s"}}},
{"data": {"name": "smooth"}, "transform": [{"filter": "datum.s !== 'DEX'"}], "mark": {"type": "line", "color": "black", "strokeWidth": 1.6}, "encoding": {"detail": {"field": "s"}}},
{"data": {"name": "smooth"}, "transform": [{"filter": "datum.s === 'DEX'"}], "mark": {"type": "line", "color": "#333", "strokeWidth": 1}, "encoding": {}},
{"data": {"name": "labels"}, "mark": {"type": "text", "align": "right", "baseline": "middle", "fontSize": 23.5, "font": "Liberation Serif, DejaVu Serif, serif", "color": "black"}, "encoding": {"text": {"field": "label"}}},
{"data": {"name": "peaks"}, "mark": {"type": "text", "angle": 270, "align": "left", "baseline": "middle", "fontSize": 22, "font": "Liberation Serif, DejaVu Serif, serif", "color": "black"}, "encoding": {"text": {"field": "label"}}}
]
}
